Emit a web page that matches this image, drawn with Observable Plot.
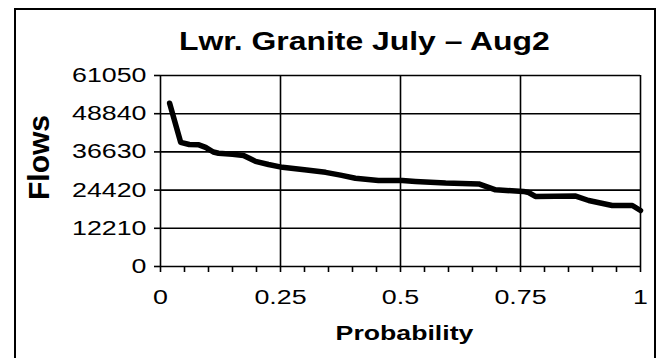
<!DOCTYPE html>
<html><head><meta charset="utf-8">
<script src="https://cdn.jsdelivr.net/npm/d3@7"></script>
<script src="https://cdn.jsdelivr.net/npm/@observablehq/plot@0.6"></script>
<style>
html,body{margin:0;padding:0;background:#fff;}
#wrap{position:relative;width:661px;height:358px;overflow:hidden;font-family:"Liberation Sans",Arial,sans-serif;}
#border{position:absolute;left:14px;top:8px;width:642px;height:400px;border:2px solid #000;box-sizing:border-box;}
#title{position:absolute;left:64px;width:601px;top:29px;text-align:center;font-size:25.5px;font-weight:bold;line-height:25px;white-space:nowrap;}
#title span{display:inline-block;transform:scaleX(1.25);transform-origin:center;}
#chart{position:absolute;left:0;top:60px;}
</style></head>
<body>
<div id="wrap">
  <div id="border"></div>
  <div id="title"><span>Lwr. Granite July – Aug2</span></div>
  <div id="chart"></div>
</div>
<script>
const titleText = "Lwr. Granite July – Aug2";
const xLabel = "Probability";
const yLabel = "Flows";
const probability = [0.019, 0.042, 0.06, 0.08, 0.094, 0.11, 0.121, 0.15, 0.173, 0.185, 0.198, 0.225, 0.254, 0.30, 0.344, 0.375, 0.406, 0.454, 0.504, 0.531, 0.594, 0.663, 0.698, 0.756, 0.767, 0.781, 0.865, 0.892, 0.941, 0.983, 1.0];
const flows =       [52200, 39700, 39000, 38900, 38100, 36600, 36200, 35900, 35500, 34600, 33600, 32600, 31700, 30900, 30100, 29200, 28200, 27500, 27500, 27200, 26700, 26400, 24500, 24000, 23650, 22400, 22500, 21100, 19500, 19500, 17900];
const yTicks = [0, 12210, 24420, 36630, 48840, 61050];
const yTickLabels = ["0", "12210", "24420", "36630", "48840", "61050"];
const xTicks = [0, 0.25, 0.5, 0.75, 1];
const xTickLabels = ["0", "0.25", "0.5", "0.75", "1"];
const xMinorTicks = [0, 0.05, 0.1, 0.15, 0.2, 0.25, 0.3, 0.35, 0.4, 0.45, 0.5, 0.55, 0.6, 0.65, 0.7, 0.75, 0.8, 0.85, 0.9, 0.95, 1];

const data = probability.map((p, i) => ({p, v: flows[i]}));

const svg = Plot.plot({
  width: 661, height: 298,
  marginLeft: 160, marginRight: 21, marginTop: 15, marginBottom: 92,
  style: {fontFamily: "'Liberation Sans', Arial, sans-serif", background: "transparent", color: "#000", overflow: "visible"},
  x: {domain: [0, 1]},
  y: {domain: [0, 61050]},
  marks: [
    Plot.gridX(xTicks, {stroke: "#000", strokeOpacity: 1, strokeWidth: 1.6}),
    Plot.gridY(yTicks, {stroke: "#000", strokeOpacity: 1, strokeWidth: 1.6}),
    Plot.axisY(yTicks, {tickSize: 6, tickPadding: 8, fontSize: 20, strokeWidth: 1.6, label: null, tickFormat: d => yTickLabels[yTicks.indexOf(d)]}),
    Plot.axisX(xMinorTicks, {tickSize: 6, strokeWidth: 1.6, label: null, tickFormat: () => ""}),
    Plot.axisX(xTicks, {tickSize: 0, tickPadding: 23, fontSize: 20, label: null, tickFormat: d => xTickLabels[xTicks.indexOf(d)]}),
    Plot.line(data, {x: "p", y: "v", stroke: "#000", strokeWidth: 5.5, strokeLinejoin: "round", strokeLinecap: "round"}),
    Plot.text([yLabel], {text: d => d, frameAnchor: "left", rotate: -90, dx: -121, dy: 29, fontSize: 30, fontWeight: "bold"}),
    Plot.text([xLabel], {text: d => d, frameAnchor: "bottom", dx: 4, dy: 73, fontSize: 21, fontWeight: "bold"})
  ]
});
document.getElementById("chart").appendChild(svg);

function stretch(nodes, k) {
  nodes.forEach(t => {
    const L = t.getComputedTextLength();
    if (L > 0) {
      t.setAttribute("textLength", (L * k).toFixed(1));
      t.setAttribute("lengthAdjust", "spacingAndGlyphs");
    }
  });
}
stretch(svg.querySelectorAll('g[aria-label="y-axis tick label"] text, g[aria-label="x-axis tick label"] text'), 1.34);
stretch([...svg.querySelectorAll('text')].filter(t => t.textContent === xLabel), 1.27);
</script>
</body></html>
